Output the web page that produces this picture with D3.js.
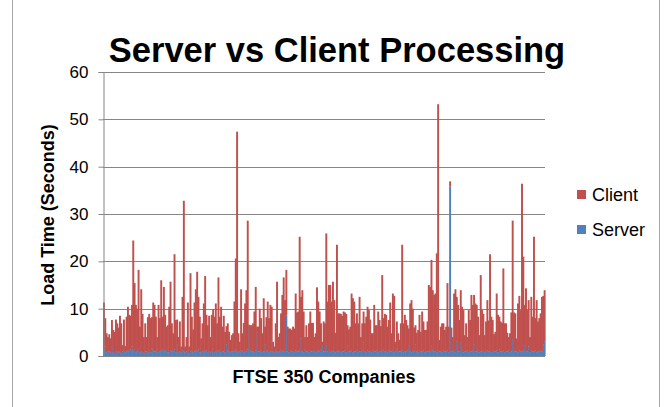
<!DOCTYPE html>
<html>
<head>
<meta charset="utf-8">
<script src="https://cdn.jsdelivr.net/npm/d3@7"></script>
<style>
  body { margin: 0; background: #fff; }
  text { font-family: "Liberation Sans", Arial, sans-serif; }
</style>
</head>
<body>
<div id="chart"></div>
<script>
// Server time (bottom, blue) and client time (top, red) per company, in seconds
var server = [
  1.2, 2.0, 0.8, 0.9, 1.0, 0.7, 2.1, 0.8, 0.6, 0.9, 0.7, 1.0, 0.8, 0.6, 0.9, 1.1, 0.8, 1.0, 1.2, 0.9, 1.4, 2.0, 1.1, 1.3, 0.8, 1.0, 1.5, 0.7, 0.9, 0.8, 0.6, 1.0, 0.9, 0.7, 1.1, 0.8, 1.6, 1.2, 1.0, 0.9, 1.3, 0.8, 1.0, 1.2, 1.5, 1.1, 0.9, 1.3, 0.8, 0.7, 1.2, 1.0, 0.9, 1.4, 0.8,
  2.5, 0.8, 1.0, 0.7, 1.2, 0.9, 0.8, 1.0, 1.3, 0.6, 0.9, 1.1, 0.8, 1.0, 1.2, 0.9, 1.4, 0.8, 0.7, 1.0, 1.1, 0.9, 1.2, 0.8, 1.0, 0.7, 0.9, 1.3, 0.8, 1.0, 1.1, 0.9, 1.2, 0.8, 1.0, 0.9, 0.7, 2.5, 1.2, 0.9, 0.8, 1.0, 0.9, 1.1, 1.3, 1.0, 0.8, 0.9, 1.2, 1.0, 0.8, 1.1, 1.0, 1.4, 6.2, 1.1,
  0.9, 1.0, 0.8, 1.2, 4.9, 1.0, 0.9, 1.1, 0.8, 1.0, 2.5, 0.9, 1.2, 0.8, 1.0, 3.2, 0.9, 0.7, 1.1, 1.0, 0.8, 0.9, 1.2, 1.0, 1.3, 0.9, 8.6, 1.0, 0.8, 1.1, 0.9, 1.0, 0.8, 1.2, 0.9, 1.0, 1.1, 3.7, 1.0, 0.8, 1.2, 0.9, 1.0, 0.8, 1.1, 1.0, 0.9, 1.2, 0.8, 1.0, 1.1, 0.9, 1.3, 2.3, 1.0,
  1.0, 2.3, 0.9, 1.1, 0.8, 1.0, 1.2, 0.9, 0.8, 1.0, 1.1, 0.9, 0.8, 1.0, 0.9, 1.2, 0.8, 2.3, 1.0, 0.9, 1.1, 0.8, 1.0, 0.9, 1.2, 0.8, 1.0, 0.9, 1.1, 2.8, 1.0, 0.8, 1.2, 0.9, 1.0, 0.8, 1.1, 0.9, 1.0, 1.2, 0.8, 1.0, 0.9, 1.1, 1.3, 0.9, 1.0, 0.8, 1.2, 1.0, 0.9, 1.1, 0.8, 1.0, 1.4, 0.9,
  0.9, 1.0, 1.2, 0.8, 1.0, 0.9, 1.1, 2.3, 1.0, 0.8, 1.2, 0.9, 2.5, 1.0, 0.8, 1.1, 0.9, 1.0, 1.2, 0.8, 1.0, 0.9, 1.1, 1.0, 2.3, 1.2, 0.9, 1.0, 0.8, 1.1, 0.9, 1.0, 0.8, 1.2, 0.9, 1.0, 1.1, 0.8, 35.8, 1.0, 0.9, 1.2, 0.8, 3.0, 1.0, 0.9, 2.8, 1.1, 0.8, 1.0, 0.9, 1.2, 0.8, 1.0, 0.9, 1.1,
  2.5, 1.0, 0.9, 1.2, 0.8, 1.0, 0.9, 1.1, 0.8, 1.0, 1.2, 0.9, 1.0, 0.8, 1.1, 0.9, 1.0, 1.2, 0.8, 1.4, 0.9, 1.0, 1.1, 0.8, 1.0, 0.9, 1.2, 0.8, 1.0, 3.4, 1.1, 0.9, 1.0, 0.8, 1.2, 0.9, 1.0, 1.1, 2.3, 0.9, 1.0, 2.0, 0.8, 1.1, 0.9, 1.0, 1.2, 0.8, 1.0, 0.9, 1.1, 1.0, 2.5, 3.0
];

var client = [
  10.1, 6.0, 4.0, 3.1, 3.6, 3.0, 5.5, 4.7, 4.5, 6.8, 6.2, 5.0, 7.7, 6.3, 1.4, 6.6, 1.3, 7.3, 9.2, 7.8, 7.1, 8.8, 23.3, 14.1, 10.0, 9.0, 16.7, 5.5, 13.2, 8.1, 3.4, 5.9, 3.1, 7.5, 7.8, 7.2, 6.6, 10.1, 9.8, 7.4, 2.7, 10.0, 7.0, 14.8, 6.8, 13.5, 7.8, 4.9, 5.7, 9.7, 14.5, 5.9, 3.9, 20.1, 6.8,
  5.2, 3.2, 6.3, 1.3, 11.3, 31.9, 1.2, 3.0, 10.0, 1.4, 16.6, 7.2, 4.8, 10.3, 12.9, 16.9, 11.1, 7.5, 3.0, 5.9, 10.0, 16.0, 7.5, 5.7, 7.5, 3.3, 7.8, 8.6, 7.5, 10.1, 5.8, 15.7, 7.1, 9.6, 5.2, 7.6, 4.4, 3.8, 5.7, 4.2, 2.6, 3.4, 3.9, 10.4, 19.3, 46.4, 4.0, 2.1, 12.9, 3.8, 6.2, 10.0, 12.9, 27.2, 0.4, 5.4,
  5.6, 5.9, 8.6, 13.4, 1.3, 5.2, 9.1, 6.9, 4.0, 11.2, 3.7, 7.3, 10.3, 7.2, 9.8, 7.2, 2.1, 1.3, 5.8, 14.7, 3.2, 3.9, 7.8, 11.9, 15.3, 10.9, 9.6, 5.2, 5.0, 4.7, 4.6, 5.2, 5.0, 12.0, 8.3, 8.4, 24.1, 8.8, 12.9, 8.6, 2.8, 5.6, 3.0, 6.1, 8.3, 6.0, 6.1, 2.8, 4.0, 13.5, 10.4, 8.5, 5.6, 0.7, 6.3,
  5.9, 23.6, 10.6, 13.9, 14.2, 10.5, 14.5, 10.9, 4.1, 22.5, 7.9, 8.1, 8.1, 7.5, 8.5, 8.0, 8.1, 4.2, 4.6, 5.3, 12.1, 11.4, 10.5, 6.0, 7.8, 6.1, 11.5, 3.1, 5.8, 6.6, 5.9, 7.5, 9.2, 8.8, 6.7, 4.0, 3.7, 9.9, 5.5, 5.3, 8.6, 6.6, 5.4, 16.0, 6.7, 8.0, 7.7, 5.4, 6.4, 10.3, 3.9, 12.1, 11.9, 2.0, 5.9, 3.9,
  2.5, 5.9, 22.3, 6.1, 7.7, 6.7, 5.4, 3.5, 10.1, 11.0, 8.8, 5.1, 4.0, 3.9, 4.7, 7.6, 4.2, 8.4, 6.1, 4.7, 4.5, 6.4, 13.9, 13.6, 18.0, 12.7, 12.0, 12.2, 20.9, 52.1, 2.5, 5.2, 6.1, 5.7, 4.6, 5.2, 14.3, 5.4, 1.1, 5.0, 3.1, 12.0, 13.3, 9.5, 9.8, 6.7, 11.1, 9.3, 8.9, 3.4, 6.0, 2.8, 8.9, 6.6, 12.0, 9.7,
  10.4, 10.1, 9.9, 7.1, 3.6, 16.1, 8.8, 7.8, 3.6, 6.3, 10.6, 6.6, 20.5, 7.5, 6.5, 3.7, 4.1, 12.0, 7.9, 6.9, 6.4, 6.0, 17.4, 6.1, 5.9, 4.0, 2.8, 4.0, 8.2, 25.2, 8.1, 8.1, 2.7, 10.3, 11.5, 8.8, 35.4, 19.9, 8.5, 13.4, 8.7, 9.8, 3.2, 11.4, 7.4, 24.2, 6.8, 11.0, 6.3, 7.1, 7.9, 11.5, 10.2, 10.9
];

var yTicks = [0, 10, 20, 30, 40, 50, 60];
var seriesNames = ["Client", "Server"];
var seriesColors = ["#C0504D", "#4F81BD"];

var svgWidth = 668;
var svgHeight = 407;
var margin = { top: 72, right: 123, bottom: 51, left: 103 };
var width = svgWidth - margin.left - margin.right;
var height = svgHeight - margin.top - margin.bottom;

var svg = d3.select("#chart")
  .append("svg")
  .attr("width", svgWidth)
  .attr("height", svgHeight);

// chart area frame (top and bottom edges fall outside the picture)
svg.append("rect")
  .attr("x", 12.5)
  .attr("y", -2)
  .attr("width", 647)
  .attr("height", 420)
  .attr("fill", "none")
  .attr("stroke", "#a6a6a6")
  .attr("stroke-width", 1);

var chartGroup = svg.append("g")
  .attr("transform", `translate(${margin.left}, ${margin.top})`);

var data = server.map(function(s, i) {
  return { id: i, server: s, client: client[i] };
});

var xScale = d3.scaleBand()
  .domain(data.map(d => d.id))
  .range([0, width])
  .padding(0);

var yScale = d3.scaleLinear()
  .domain([0, 60])
  .range([height, 0]);

// gridlines
chartGroup.append("g")
  .selectAll("line")
  .data(yTicks)
  .enter()
  .append("line")
  .attr("x1", 0)
  .attr("x2", width)
  .attr("y1", d => Math.round(yScale(d)) + 0.5)
  .attr("y2", d => Math.round(yScale(d)) + 0.5)
  .attr("stroke", "#868686")
  .attr("stroke-width", 1);

// stacked bars
var stacked = d3.stack().keys(["server", "client"])(data);
var colorFor = { server: "#4F81BD", client: "#C0504D" };

chartGroup.selectAll(".layer")
  .data(stacked)
  .enter()
  .append("g")
  .attr("fill", d => colorFor[d.key])
  .selectAll("rect")
  .data(d => d)
  .enter()
  .append("rect")
  .attr("x", d => xScale(d.data.id))
  .attr("width", xScale.bandwidth() + 0.6) // slight overlap hides seams
  .attr("y", d => yScale(d[1]))
  .attr("height", d => yScale(d[0]) - yScale(d[1]));

// y axis
var leftAxis = d3.axisLeft(yScale)
  .tickValues(yTicks)
  .tickSize(5)
  .tickPadding(10);

var yAxisG = chartGroup.append("g")
  .attr("transform", "translate(0.5, 0)")
  .call(leftAxis);

yAxisG.select(".domain").attr("stroke", "#868686");
yAxisG.selectAll(".tick line").attr("stroke", "#868686");
yAxisG.selectAll(".tick text")
  .attr("font-family", "Liberation Sans, Arial, sans-serif")
  .attr("font-size", "17px")
  .attr("fill", "#000");

// x axis baseline
chartGroup.append("line")
  .attr("x1", 0)
  .attr("x2", width)
  .attr("y1", height + 0.5)
  .attr("y2", height + 0.5)
  .attr("stroke", "#868686");

// title
svg.append("text")
  .attr("x", 337)
  .attr("y", 62)
  .attr("text-anchor", "middle")
  .attr("font-size", "34.5px")
  .attr("font-weight", "bold")
  .text("Server vs Client Processing");

// axis titles
svg.append("text")
  .attr("transform", "translate(54, 215) rotate(-90)")
  .attr("text-anchor", "middle")
  .attr("font-size", "18px")
  .attr("font-weight", "bold")
  .text("Load Time (Seconds)");

svg.append("text")
  .attr("x", 324)
  .attr("y", 383)
  .attr("text-anchor", "middle")
  .attr("font-size", "18px")
  .attr("font-weight", "bold")
  .text("FTSE 350 Companies");

// legend
var legend = svg.append("g")
  .attr("transform", "translate(577, 190)");

var legendItems = legend.selectAll("g")
  .data(seriesNames)
  .enter()
  .append("g")
  .attr("transform", (d, i) => `translate(0, ${i * 35})`);

legendItems.append("rect")
  .attr("width", 9)
  .attr("height", 9)
  .attr("fill", (d, i) => seriesColors[i]);

legendItems.append("text")
  .attr("x", 15)
  .attr("y", 11)
  .attr("font-size", "18px")
  .text(d => d);
</script>
</body>
</html>
